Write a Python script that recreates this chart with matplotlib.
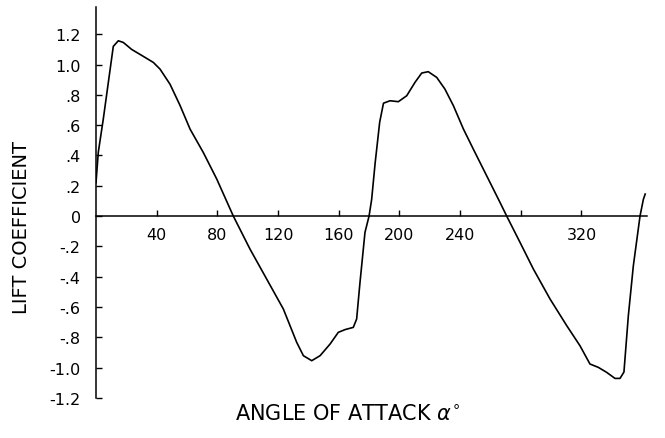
import matplotlib
matplotlib.use("Agg")
import matplotlib.pyplot as plt
from matplotlib.ticker import FixedLocator, FixedFormatter

# lift coefficient vs angle of attack
alpha = [0, 1.5, 4.8, 8.1, 11.4, 14.7, 18, 23.5, 31.2, 37.8, 42.2, 48.8, 55.4,
         62, 70.7, 79.6, 90.5, 101.5, 112.5, 123.5, 132.3, 136.7, 142.2, 147.7,
         154.3, 159.7, 164.1, 169.6, 171.8, 174, 177.3, 180, 181.7, 184, 187,
         189.5, 193.8, 199.3, 204.8, 210.3, 214.7, 219, 224.6, 230, 235.6,
         242.2, 248.7, 257.5, 266.3, 270.7, 279.5, 288.3, 299.3, 310.3, 319,
         325.6, 331.1, 336.6, 342.1, 345.4, 348, 350.9, 354.2, 358.6, 360.8, 362]
cl = [0.22, 0.42, 0.64, 0.88, 1.12, 1.157, 1.146, 1.10, 1.054, 1.014, 0.97,
      0.87, 0.73, 0.574, 0.42, 0.244, 0.0, -0.218, -0.416, -0.614, -0.834,
      -0.922, -0.955, -0.922, -0.845, -0.768, -0.75, -0.735, -0.68, -0.44,
      -0.108, 0.0, 0.11, 0.35, 0.62, 0.745, 0.761, 0.755, 0.794, 0.883, 0.944,
      0.953, 0.915, 0.838, 0.728, 0.574, 0.442, 0.266, 0.09, 0.0, -0.174,
      -0.35, -0.548, -0.724, -0.856, -0.977, -0.999, -1.032, -1.072, -1.072,
      -1.03, -0.658, -0.328, 0.0, 0.11, 0.145]

xticks = [40, 80, 120, 160, 200, 240, 280, 320]
xticklabels = ["40", "80", "120", "160", "200", "240", "", "320"]
yticks = [-1.2, -1.0, -0.8, -0.6, -0.4, -0.2, 0, 0.2, 0.4, 0.6, 0.8, 1.0, 1.2]
yticklabels = ["-1.2", "-1.0", "-.8", "-.6", "-.4", "-.2", "0",
               ".2", ".4", ".6", ".8", "1.0", "1.2"]

fig = plt.figure(figsize=(6.65, 4.39), dpi=100)
ax = fig.add_axes([96 / 665, 1 - 398.8 / 439, (646.7 - 96) / 665, (398.8 - 8) / 439])

ax.plot(alpha, cl, color="black", linewidth=1.2)

ax.set_xlim(0, 363)
ax.set_ylim(-1.2, 1.38)
ax.spines["top"].set_visible(False)
ax.spines["right"].set_visible(False)
ax.spines["bottom"].set_position(("data", 0))
for s in ("left", "bottom"):
    ax.spines[s].set_linewidth(1.1)

ax.xaxis.set_major_locator(FixedLocator(xticks))
ax.xaxis.set_major_formatter(FixedFormatter(xticklabels))
ax.yaxis.set_major_locator(FixedLocator(yticks))
ax.yaxis.set_major_formatter(FixedFormatter(yticklabels))
ax.tick_params(axis="x", direction="in", length=4, width=1, pad=8, labelsize=11.5)
ax.tick_params(axis="y", direction="in", length=4, width=1, pad=11, labelsize=11.5)

fig.text(348 / 665, 1 - 414 / 439, r"ANGLE OF ATTACK $\alpha^{\circ}$",
         ha="center", va="center", fontsize=15)
fig.text(22 / 665, 1 - 227 / 439, "LIFT COEFFICIENT", rotation=90,
         ha="center", va="center", fontsize=14)

fig.savefig("out.png", dpi=100)
